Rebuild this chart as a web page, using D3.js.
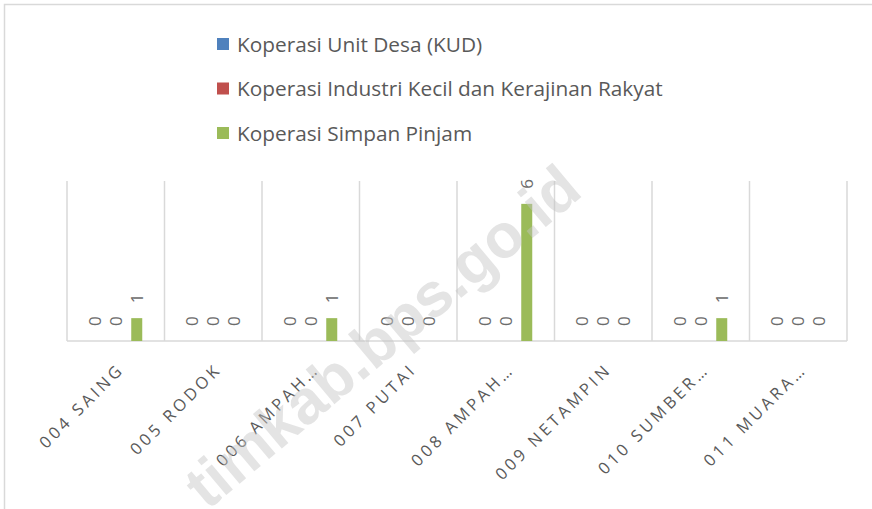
<!DOCTYPE html>
<html lang="id">
<head>
  <meta charset="UTF-8">
  <title>Koperasi per Desa</title>
  <script src="https://d3js.org/d3.v7.min.js"></script>
  <style>
    body { margin:0; background:#fff; overflow:hidden; }
    svg { display:block; }
  </style>
</head>
<body>
  <script>
    // data
    const desa = ["004 SAING", "005 RODOK", "006 AMPAH\u2026", "007 PUTAI",
                  "008 AMPAH\u2026", "009 NETAMPIN", "010 SUMBER\u2026", "011 MUARA\u2026"];
    const seriesNames = ["Koperasi Unit Desa (KUD)",
                         "Koperasi Industri Kecil dan Kerajinan Rakyat",
                         "Koperasi Simpan Pinjam"];
    const kud  = [0, 0, 0, 0, 0, 0, 0, 0];
    const kikr = [0, 0, 0, 0, 0, 0, 0, 0];
    const ksp  = [1, 0, 1, 0, 6, 0, 1, 0];
    const colors = ["#4f81bd", "#c0504d", "#9bbb59"];

    const W = 872, H = 509;
    const plot = {left: 67, right: 847, top: 181, bottom: 341};

    const svg = d3.select("body").append("svg")
      .attr("width", W).attr("height", H);

    // outer chart border (top + left visible)
    svg.append("rect")
      .attr("x", 4.5).attr("y", 4.5)
      .attr("width", W).attr("height", H)
      .attr("fill", "none").attr("stroke", "#d9d9d9").attr("stroke-width", 1.5);

    const x = d3.scaleBand().domain(desa).range([plot.left, plot.right]).padding(0);
    const xs = d3.scaleBand().domain(d3.range(3)).range([-26.5, 26.5])
      .paddingInner(0.476).paddingOuter(0);
    const y = d3.scaleLinear().domain([0, 7]).range([plot.bottom, plot.top]);

    // vertical separators between categories
    svg.append("g").selectAll("line")
      .data(desa.concat(["_end"]))
      .join("line")
        .attr("x1", (d, i) => i < desa.length ? x(d) : plot.right)
        .attr("x2", (d, i) => i < desa.length ? x(d) : plot.right)
        .attr("y1", plot.top).attr("y2", plot.bottom)
        .attr("stroke", "#d9d9d9").attr("stroke-width", 1.5);

    // baseline
    svg.append("line")
      .attr("x1", plot.left).attr("x2", plot.right)
      .attr("y1", y(0)).attr("y2", y(0))
      .attr("stroke", "#d9d9d9").attr("stroke-width", 1.5);

    const all = [kud, kikr, ksp];
    const rows = [];
    desa.forEach((d, i) => all.forEach((s, k) => rows.push({cat: d, k, v: s[i]})));

    const cx = r => x(r.cat) + x.bandwidth() / 2 + xs(r.k) + xs.bandwidth() / 2;

    svg.append("g").selectAll("rect")
      .data(rows.filter(r => r.v > 0))
      .join("rect")
        .attr("x", r => cx(r) - xs.bandwidth() / 2)
        .attr("width", xs.bandwidth())
        .attr("y", r => y(r.v))
        .attr("height", r => y(0) - y(r.v))
        .attr("fill", r => colors[r.k]);

    // value labels, rotated
    svg.append("g").selectAll("text")
      .data(rows)
      .join("text")
        .attr("transform", r => `translate(${cx(r)},${y(r.v) - 15}) rotate(-90)`)
        .attr("dy", "0.36em")
        .attr("text-anchor", "start")
        .attr("fill", "#6b6b6b")
        .style("font", "17px 'Open Sans', sans-serif")
        .text(r => r.v);

    // category labels at -45
    svg.append("g").selectAll("text")
      .data(desa)
      .join("text")
        .attr("transform", d => `translate(${x(d) + x.bandwidth() / 2 + 1},${plot.bottom + 21}) rotate(-45)`)
        .attr("dy", "0.72em")
        .attr("text-anchor", "end")
        .attr("fill", "#595959")
        .style("font", "16.5px 'Open Sans', sans-serif")
        .style("letter-spacing", "3.4px")
        .text(d => d);

    // legend
    const lg = svg.append("g").selectAll("g")
      .data(seriesNames)
      .join("g")
        .attr("transform", (d, i) => `translate(217,${44 + i * 44.5})`);
    lg.append("rect")
      .attr("x", 0).attr("y", -6).attr("width", 12).attr("height", 12)
      .attr("fill", (d, i) => colors[i]);
    lg.append("text")
      .attr("x", 20).attr("dy", "0.36em")
      .attr("fill", "#595959")
      .style("font", "20.8px 'Open Sans', sans-serif")
      .text(d => d);

    // watermark
    svg.append("text")
      .attr("transform", "translate(382,336) rotate(-40)")
      .attr("text-anchor", "middle")
      .attr("dy", "0.35em")
      .attr("fill", "#c4c4c4")
      .attr("opacity", 0.45)
      .style("font", "bold 62px 'Liberation Sans', sans-serif")
      .text("timkab.bps.go.id");
  </script>
</body>
</html>
